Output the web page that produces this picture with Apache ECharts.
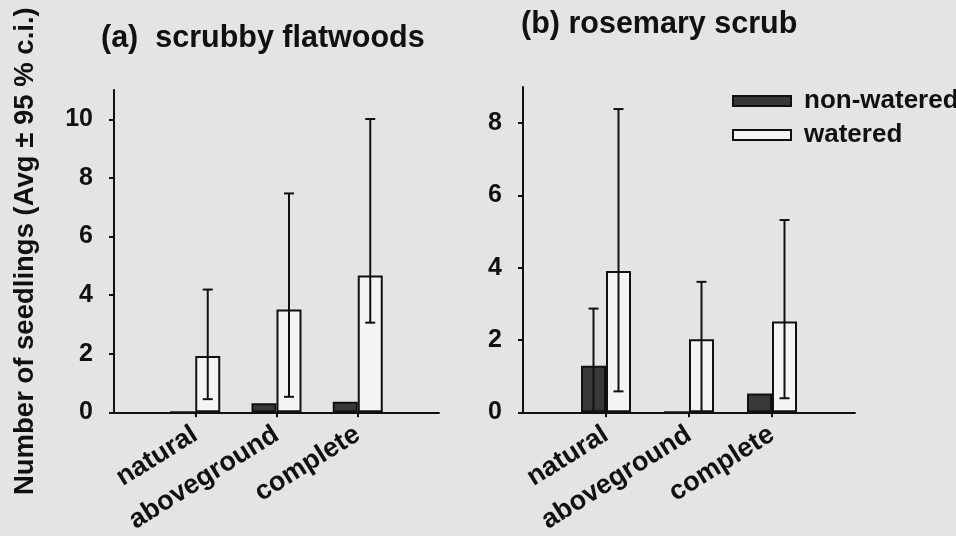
<!DOCTYPE html>
<html>
<head>
<meta charset="utf-8">
<script src="https://cdn.jsdelivr.net/npm/echarts@6/dist/echarts.min.js"></script>
<style>
html,body{margin:0;padding:0;background:#e4e4e4;}
#chart{width:956px;height:536px;}
</style>
</head>
<body>
<div id="chart"></div>
<script>
// ---- data ----
const categories = ['natural', 'aboveground', 'complete'];
const seriesNames = ['non-watered', 'watered'];
const panelTitles = ['(a)  scrubby flatwoods', '(b) rosemary scrub'];
const yAxisName = 'Number of seedlings (Avg \u00b1 95 % c.i.)';

// (a) scrubby flatwoods
const aNonWatered = [0, 0.31, 0.36];
const aWatered = [1.92, 3.51, 4.67];
const aNonWateredLow = [null, null, null];
const aNonWateredHigh = [null, null, null];
const aWateredLow = [0.45, 0.53, 3.06];
const aWateredHigh = [4.19, 7.47, 10.01];
const aTicks = [0, 2, 4, 6, 8, 10];
const aMax = 11;

// (b) rosemary scrub
const bNonWatered = [1.29, 0, 0.52];
const bWatered = [3.91, 2.02, 2.51];
const bNonWateredLow = [0, null, null];
const bNonWateredHigh = [2.87, null, null];
const bWateredLow = [0.58, 0, 0.39];
const bWateredHigh = [8.39, 3.61, 5.32];
const bTicks = [0, 2, 4, 6, 8];
const bMax = 9;

// ---- build ----
const FONT = 'Liberation Sans';
const INK = '#111';
const axisCats = [''].concat(categories, ['']);
const pad = arr => [null].concat(arr, [null]);
const BAR_W = 25;

function errData(low, high) {
  const out = [];
  low.forEach((lo, i) => {
    if (lo !== null && high[i] !== null) out.push([i + 1, lo, high[i]]);
  });
  return out;
}
function errSeries(idx, low, high, offset) {
  return {
    type: 'custom',
    xAxisIndex: idx, yAxisIndex: idx,
    z: 5,
    silent: true,
    data: errData(low, high),
    renderItem: function (params, api) {
      const pLo = api.coord([api.value(0), api.value(1)]);
      const pHi = api.coord([api.value(0), api.value(2)]);
      const cx = pLo[0] + offset;
      const st = { stroke: INK, lineWidth: 2 };
      return {
        type: 'group',
        children: [
          { type: 'line', shape: { x1: cx, y1: pLo[1], x2: cx, y2: pHi[1] }, style: st },
          { type: 'line', shape: { x1: cx - 5, y1: pHi[1], x2: cx + 5, y2: pHi[1] }, style: st },
          { type: 'line', shape: { x1: cx - 5, y1: pLo[1], x2: cx + 5, y2: pLo[1] }, style: st }
        ]
      };
    }
  };
}
function barSeries(idx, name, values, fill) {
  return {
    type: 'bar', name: name,
    xAxisIndex: idx, yAxisIndex: idx,
    data: pad(values),
    barWidth: BAR_W, barGap: '0%',
    itemStyle: { color: fill, borderColor: INK, borderWidth: 2 }
  };
}
function xAxis(idx) {
  return {
    type: 'category', gridIndex: idx, data: axisCats, boundaryGap: false,
    axisLine: { lineStyle: { color: INK, width: 2 } },
    axisTick: { show: true, length: 5, inside: false, interval: i => i > 0 && i < axisCats.length - 1, lineStyle: { color: INK, width: 2 } },
    axisLabel: { interval: 0, rotate: 32, margin: 20, color: INK, fontFamily: FONT, fontWeight: 'bold', fontSize: 27 },
    splitLine: { show: false }
  };
}
function yAxis(idx, max, ticks, withName) {
  const ax = {
    type: 'value', gridIndex: idx, min: 0, max: max, interval: 2,
    axisLine: { show: true, lineStyle: { color: INK, width: 2 } },
    axisTick: { show: true, length: 5, customValues: ticks, lineStyle: { color: INK, width: 2 } },
    axisLabel: { customValues: ticks, margin: 21, color: INK, fontFamily: FONT, fontWeight: 'bold', fontSize: 25 },
    splitLine: { show: false }
  };
  if (withName) {
    Object.assign(ax, {
      name: yAxisName, nameLocation: 'middle', nameRotate: 90, nameGap: 75,
      nameTextStyle: { color: INK, fontFamily: FONT, fontWeight: 'bold', fontSize: 27.5 }
    });
  }
  return ax;
}

const chart = echarts.init(document.getElementById('chart'));
chart.setOption({
  backgroundColor: '#e4e4e4',
  animation: false,
  title: [
    { text: panelTitles[0], left: 101, top: 23, padding: 0, textStyle: { color: INK, fontFamily: FONT, fontWeight: 'bold', fontSize: 30.5 } },
    { text: panelTitles[1], left: 521, top: 9, padding: 0, textStyle: { color: INK, fontFamily: FONT, fontWeight: 'bold', fontSize: 30.5 } }
  ],
  legend: {
    data: seriesNames, orient: 'vertical', left: 732, top: 88, padding: 0,
    icon: 'rect',
    itemWidth: 58, itemHeight: 10, itemGap: 8,
    textStyle: { color: INK, fontFamily: FONT, fontWeight: 'bold', fontSize: 26, padding: [0, 0, 0, 8] }
  },
  grid: [
    { left: 114, top: 90, width: 325, height: 324 },
    { left: 523, top: 87, width: 332, height: 326 }
  ],
  xAxis: [xAxis(0), xAxis(1)],
  yAxis: [yAxis(0, aMax, aTicks, true), yAxis(1, bMax, bTicks, false)],
  series: [
    barSeries(0, seriesNames[0], aNonWatered, '#383838'),
    barSeries(0, seriesNames[1], aWatered, '#f4f4f4'),
    barSeries(1, seriesNames[0], bNonWatered, '#383838'),
    barSeries(1, seriesNames[1], bWatered, '#f4f4f4'),
    errSeries(0, aNonWateredLow, aNonWateredHigh, -BAR_W / 2),
    errSeries(0, aWateredLow, aWateredHigh, BAR_W / 2),
    errSeries(1, bNonWateredLow, bNonWateredHigh, -BAR_W / 2),
    errSeries(1, bWateredLow, bWateredHigh, BAR_W / 2)
  ]
});
</script>
</body>
</html>
